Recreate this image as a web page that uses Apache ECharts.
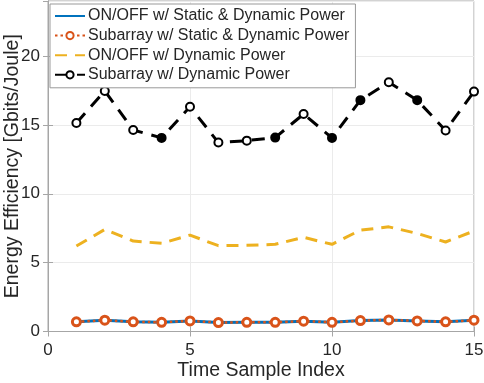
<!DOCTYPE html>
<html>
<head>
<meta charset="utf-8">
<script src="https://cdn.jsdelivr.net/npm/echarts@6/dist/echarts.min.js"></script>
<style>html,body{margin:0;padding:0;background:#fff}#c{width:484px;height:383px}</style>
</head>
<body>
<div id="c"></div>
<script>
var timeIdx = [1,2,3,4,5,6,7,8,9,10,11,12,13,14,15];
var onoffStaticDyn = [0.70,0.82,0.70,0.67,0.77,0.65,0.67,0.67,0.75,0.67,0.79,0.84,0.77,0.70,0.82];
var subarrayStaticDyn = [0.70,0.82,0.70,0.67,0.77,0.65,0.67,0.67,0.75,0.67,0.79,0.84,0.77,0.70,0.82];
var onoffDyn = [6.21,7.41,6.57,6.40,7.00,6.23,6.26,6.33,6.84,6.33,7.36,7.60,7.12,6.50,7.30];
var subarrayDyn = [15.14,17.47,14.63,14.06,16.32,13.72,13.86,14.08,15.79,14.06,16.80,18.10,16.80,14.60,17.42];
var seriesNames = ['ON/OFF w/ Static & Dynamic Power','Subarray w/ Static & Dynamic Power','ON/OFF w/ Dynamic Power','Subarray w/ Dynamic Power'];
var xTicks = {min:0, max:15, interval:5};
var yTicks = {min:0, max:24, interval:5};
// markers of the black series that look filled in the reference (1-based)
var filledLook = [4,8,10,11,13];

function pairs(ys){ return timeIdx.map(function(x,i){ return [x, ys[i]]; }); }

var FONT = 'Liberation Sans, Arial, Helvetica, sans-serif';
var TXT = '#262626';
var AX = '#a6a6a6';

var blackData = timeIdx.map(function(x,i){
  var d = {value:[x, subarrayDyn[i]]};
  if (filledLook.indexOf(x) >= 0) d.itemStyle = {color:'#000'};
  return d;
});

var chart = echarts.init(document.getElementById('c'), null, {renderer:'canvas'});
chart.setOption({
  animation:false,
  backgroundColor:'#fff',
  textStyle:{fontFamily:FONT},
  grid:{left:48, right:10, top:1, bottom:51.5, outerBoundsMode:'none', containLabel:false,
        show:true, borderColor:AX, borderWidth:1, backgroundColor:'#fff'},
  legend:{
    orient:'vertical', left:50, top:4,
    padding:[4,6,5,4], itemGap:3.6, itemWidth:30, itemHeight:9,
    backgroundColor:'#fff', borderColor:'#999', borderWidth:1,
    textStyle:{fontFamily:FONT, fontSize:16, color:TXT, padding:[0,0,0,-2]},
    data:[
      {name:seriesNames[0], itemStyle:{opacity:0}},
      {name:seriesNames[1]},
      {name:seriesNames[2], itemStyle:{opacity:0}},
      {name:seriesNames[3]}
    ]
  },
  xAxis:[{
    type:'value', min:xTicks.min, max:xTicks.max, interval:xTicks.interval,
    name:'Time Sample Index', nameLocation:'middle', nameGap:29, nameMoveOverlap:false,
    nameTextStyle:{fontFamily:FONT, fontSize:19.5, color:TXT},
    axisLine:{show:true, lineStyle:{color:AX}},
    axisTick:{show:true, inside:true, length:5, lineStyle:{color:AX}},
    axisLabel:{fontFamily:FONT, fontSize:17, color:TXT, margin:10},
    splitLine:{show:true, lineStyle:{color:'#ebebeb'}}
  },{
    type:'value', position:'top', min:xTicks.min, max:xTicks.max, interval:xTicks.interval,
    axisLine:{show:true, lineStyle:{color:AX}},
    axisTick:{show:true, inside:true, length:5, lineStyle:{color:AX}},
    axisLabel:{show:false}, splitLine:{show:false}
  }],
  yAxis:[{
    type:'value', min:yTicks.min, max:yTicks.max, interval:yTicks.interval,
    name:'Energy Efficiency [Gbits/Joule]', nameLocation:'middle', nameGap:25, nameMoveOverlap:false,
    nameTextStyle:{fontFamily:FONT, fontSize:19.5, color:TXT},
    axisLine:{show:true, lineStyle:{color:AX}},
    axisTick:{show:true, inside:true, length:5, lineStyle:{color:AX}},
    axisLabel:{fontFamily:FONT, fontSize:17, color:TXT, margin:8, showMaxLabel:false},
    splitLine:{show:true, lineStyle:{color:'#ebebeb'}}
  },{
    type:'value', position:'right', min:yTicks.min, max:yTicks.max, interval:yTicks.interval,
    axisLine:{show:true, lineStyle:{color:AX}},
    axisTick:{show:true, inside:true, length:5, lineStyle:{color:AX}},
    axisLabel:{show:false}, splitLine:{show:false}
  }],
  series:[
    {name:seriesNames[0], type:'line', data:pairs(onoffStaticDyn), showSymbol:false, symbol:'none',
     lineStyle:{color:'#0072BD', width:3}, itemStyle:{color:'#0072BD'}, z:2},
    {name:seriesNames[1], type:'line', data:pairs(subarrayStaticDyn), symbol:'circle', symbolSize:8,
     lineStyle:{color:'#D95319', width:2.5, type:[2.5,3]},
     itemStyle:{color:'#fff', borderColor:'#D95319', borderWidth:3}, z:3},
    {name:seriesNames[2], type:'line', data:pairs(onoffDyn), symbol:'none',
     lineStyle:{color:'#EDB120', width:3, type:[12,8]}, itemStyle:{color:'#EDB120'}, z:2},
    {name:seriesNames[3], type:'line', data:blackData, symbol:'circle', symbolSize:8,
     lineStyle:{color:'#000', width:3, type:[13,9]},
     itemStyle:{color:'#fff', borderColor:'#000', borderWidth:2}, z:3}
  ]
});
</script>
</body>
</html>
